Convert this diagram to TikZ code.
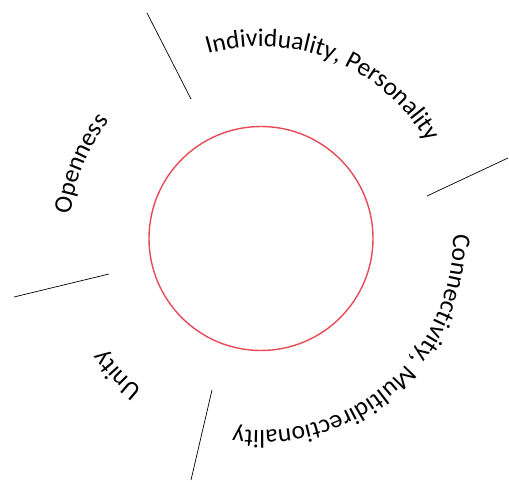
\documentclass[tikz,border=0pt]{standalone}
\usepackage{fontspec}
\setmainfont{Carlito}
\usetikzlibrary{decorations.text}
\newcommand{\ringfont}{\fontsize{25.5}{30}\selectfont}
\definecolor{ringred}{RGB}{232,74,86}

\begin{document}
\begin{tikzpicture}[x=1pt, y=1pt,
  divider/.style={line width=0.7pt},
  ringlabel/.style={decoration={text along path, text={|\ringfont|#1}, text align=center}, decorate}]
\useasboundingbox (0,0) rectangle (509,482);
\coordinate (c) at (261,243.5);
\node[circle, draw=ringred, line width=1.4pt, minimum size=224pt, inner sep=0pt] (ring) at (c) {};
% dividers between the sectors
\coordinate (d1a) at (191,383); \coordinate (d1b) at (147,469);
\coordinate (d2a) at (427,286); \coordinate (d2b) at (508,324);
\coordinate (d3a) at (109,208); \coordinate (d3b) at (14,185);
\coordinate (d4a) at (212,92);  \coordinate (d4b) at (191,2);
\draw[divider] (d1a) -- (d1b);
\draw[divider] (d2a) -- (d2b);
\draw[divider] (d3a) -- (d3b);
\draw[divider] (d4a) -- (d4b);
% labels round the ring
\path[ringlabel={Individuality, Personality}] ([shift={(138:192)}]c) arc[start angle=138, end angle=-2, radius=192];
\path[ringlabel={Openness}] ([shift={(227.5:192)}]c) arc[start angle=227.5, end angle=87.5, radius=192];
\path[ringlabel={Connectivity, Multidirectionality}] ([shift={(21.5:192)}]c) arc[start angle=21.5, end angle=-118.5, radius=192];
\path[ringlabel={Unity}] ([shift={(293.5:192)}]c) arc[start angle=293.5, end angle=153.5, radius=192];
\end{tikzpicture}
\end{document}
